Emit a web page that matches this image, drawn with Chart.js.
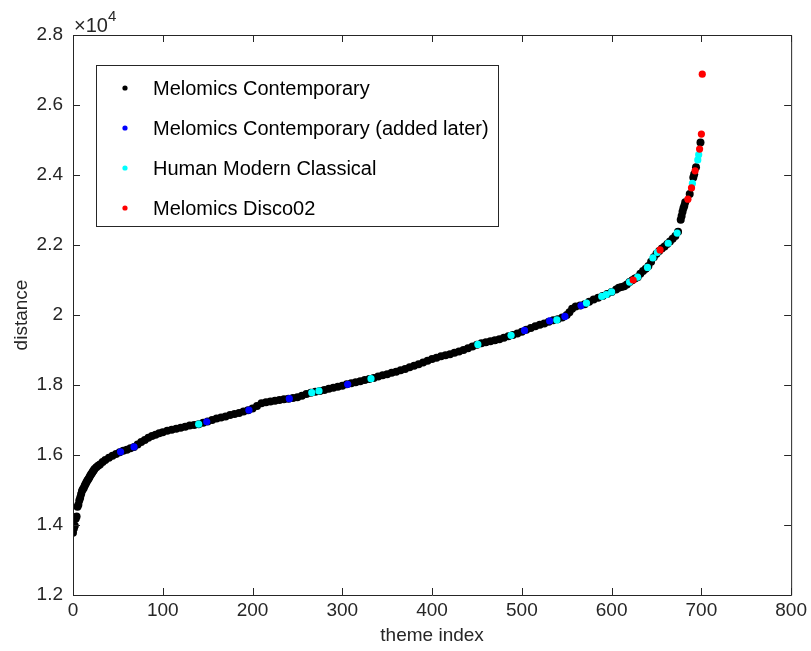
<!DOCTYPE html>
<html>
<head>
<meta charset="utf-8">
<script src="https://cdn.jsdelivr.net/npm/chart.js"></script>
<style>
  html, body { margin: 0; padding: 0; background: #fff; }
  #wrap { width: 811px; height: 651px; }
</style>
</head>
<body>
<div id="wrap"><canvas id="distChart" width="811" height="651"></canvas></div>
<script>
// theme index / distance pairs
const contemporary = [
  [0, 13780], [1, 13900], [2, 13980], [3, 14180], [4, 14240], [5, 14520], [6, 14580],
  [7, 14700], [8, 14780], [9, 14880], [10, 14970], [11, 15020], [12, 15060], [13, 15120],
  [14, 15170], [15, 15220], [16, 15270], [17, 15310], [18, 15350], [19, 15400], [20, 15440],
  [21, 15480], [22, 15520], [23, 15560], [24, 15600], [26, 15650], [28, 15690], [30, 15730],
  [33, 15800], [36, 15860], [40, 15920], [44, 15980], [48, 16030], [52, 16080], [56, 16120],
  [60, 16150], [64, 16190], [68, 16230], [72, 16300], [76, 16370], [80, 16430], [84, 16490],
  [88, 16540], [92, 16580], [96, 16620], [100, 16650], [105, 16690], [110, 16720], [115, 16750],
  [120, 16780], [125, 16810], [130, 16840], [135, 16860], [140, 16880], [145, 16920], [150, 16960],
  [155, 17000], [160, 17040], [165, 17070], [170, 17100], [175, 17140], [180, 17170], [185, 17200],
  [190, 17240], [195, 17280], [200, 17330], [205, 17400], [210, 17480], [215, 17510], [220, 17530],
  [225, 17550], [230, 17570], [235, 17590], [240, 17610], [245, 17630], [250, 17650], [255, 17690],
  [260, 17740], [265, 17780], [270, 17810], [275, 17830], [280, 17860], [285, 17890], [290, 17920],
  [295, 17950], [300, 17980], [305, 18020], [310, 18050], [315, 18080], [320, 18110], [325, 18140],
  [330, 18170], [335, 18200], [340, 18240], [345, 18280], [350, 18310], [355, 18350], [360, 18380],
  [365, 18420], [370, 18460], [375, 18510], [380, 18550], [385, 18590], [390, 18640], [395, 18690],
  [400, 18740], [405, 18780], [410, 18820], [415, 18850], [420, 18880], [425, 18920], [430, 18960],
  [435, 19000], [440, 19050], [445, 19100], [450, 19150], [455, 19190], [460, 19220], [465, 19250],
  [470, 19280], [475, 19310], [480, 19350], [485, 19390], [490, 19430], [495, 19470], [500, 19520],
  [505, 19580], [510, 19630], [515, 19680], [520, 19720], [525, 19760], [530, 19810], [535, 19850],
  [540, 19880], [545, 19930], [550, 20000], [553, 20080], [556, 20180], [560, 20240], [565, 20270],
  [570, 20310], [575, 20380], [580, 20440], [585, 20490], [590, 20540], [595, 20600], [600, 20660],
  [605, 20730], [608, 20780], [611, 20800], [614, 20820], [617, 20870], [620, 20940], [623, 20990],
  [626, 21040], [629, 21080], [632, 21180], [635, 21260], [638, 21320], [641, 21400], [644, 21520],
  [647, 21650], [650, 21750], [653, 21830], [656, 21900], [659, 21960], [662, 22030], [665, 22100],
  [668, 22180], [671, 22260], [674, 22380], [677, 22720], [678, 22830], [679, 22950], [680, 23050],
  [681, 23120], [682, 23220], [687, 23460], [691, 23930], [692, 24020], [694, 24220], [699, 24930]
];
const contemporaryLater = [
  [53, 16090], [68, 16230], [149, 16950], [196, 17280], [241, 17610], [306, 18020],
  [503, 19560], [531, 19830], [548, 19960], [566, 20270]
];
const modernClassical = [
  [140, 16880], [266, 17780], [274, 17830], [332, 18180], [451, 19160], [488, 19420],
  [539, 19860], [572, 20340], [589, 20530], [594, 20580], [600, 20660], [620, 20940],
  [629, 21080], [640, 21360], [646, 21630], [651, 21790], [663, 22050], [673, 22340],
  [690, 23760], [696, 24430], [697, 24580]
];
const disco02 = [
  [624, 21000], [654, 21860], [685, 23310], [689, 23630], [693, 24120], [698, 24740],
  [700, 25170], [701, 26880]
];

const seriesNames = ['Melomics Contemporary', 'Melomics Contemporary (added later)',
  'Human Modern Classical', 'Melomics Disco02'];
const seriesColors = ['#000000', '#0000ff', '#00ffff', '#ff0000'];
const xTicks = [0, 100, 200, 300, 400, 500, 600, 700, 800];
const yTicks = [12000, 14000, 16000, 18000, 20000, 22000, 24000, 26000, 28000];

const axisColor = '#262626';
const fontFamily = '"Liberation Sans", Arial, Helvetica, sans-serif';

function toPoints(arr) {
  return arr.map(p => ({ x: p[0], y: p[1] }));
}

// box, inward ticks and exponent label like the MATLAB axes
const framePlugin = {
  id: 'frame',
  afterDraw(chart) {
    const { ctx, chartArea: a, scales } = chart;
    const len = 7;
    ctx.save();
    ctx.strokeStyle = axisColor;
    ctx.lineWidth = 1;
    ctx.beginPath();
    ctx.rect(a.left + 0.5, a.top + 0.5, a.right - a.left, a.bottom - a.top);
    xTicks.forEach(t => {
      const x = Math.round(scales.x.getPixelForValue(t)) + 0.5;
      ctx.moveTo(x, a.bottom); ctx.lineTo(x, a.bottom - len);
      ctx.moveTo(x, a.top); ctx.lineTo(x, a.top + len);
    });
    yTicks.forEach(t => {
      const y = Math.round(scales.y.getPixelForValue(t)) + 0.5;
      ctx.moveTo(a.left, y); ctx.lineTo(a.left + len, y);
      ctx.moveTo(a.right, y); ctx.lineTo(a.right - len, y);
    });
    ctx.stroke();

    ctx.fillStyle = axisColor;
    ctx.textBaseline = 'alphabetic';
    ctx.textAlign = 'left';
    ctx.font = '20px ' + fontFamily;
    ctx.fillText('\u00d710', a.left + 1, a.top - 3);
    const w = ctx.measureText('\u00d710').width;
    ctx.font = '15px ' + fontFamily;
    ctx.fillText('4', a.left + 1 + w, a.top - 14);
    ctx.restore();
  }
};

// boxed legend inside the plot area
const boxLegendPlugin = {
  id: 'boxLegend',
  afterDraw(chart) {
    const { ctx } = chart;
    const bx = 96, by = 65, bw = 402, bh = 161;
    ctx.save();
    ctx.fillStyle = '#ffffff';
    ctx.fillRect(bx, by, bw, bh);
    ctx.strokeStyle = axisColor;
    ctx.lineWidth = 1;
    ctx.strokeRect(bx + 0.5, by + 0.5, bw, bh);
    ctx.font = '20px ' + fontFamily;
    ctx.textBaseline = 'middle';
    ctx.textAlign = 'left';
    seriesNames.forEach((name, i) => {
      const y = by + 23 + i * 40;
      ctx.fillStyle = seriesColors[i];
      ctx.beginPath();
      ctx.arc(bx + 29, y, 2.6, 0, Math.PI * 2);
      ctx.fill();
      ctx.fillStyle = '#000000';
      ctx.fillText(name, bx + 57, y + 1);
    });
    ctx.restore();
  }
};

const groups = [contemporary, contemporaryLater, modernClassical, disco02];

new Chart(document.getElementById('distChart').getContext('2d'), {
  type: 'scatter',
  data: {
    datasets: groups.map((g, i) => ({
      label: seriesNames[i],
      data: toPoints(g),
      backgroundColor: seriesColors[i],
      borderWidth: 0,
      pointRadius: i === 0 ? 4 : 3.6,
      pointHoverRadius: i === 0 ? 4 : 3.6,
      order: groups.length - i
    }))
  },
  options: {
    responsive: false,
    animation: false,
    events: [],
    layout: { padding: { top: 35, right: 18, left: 0, bottom: 0 } },
    plugins: {
      legend: { display: false },
      tooltip: { enabled: false }
    },
    scales: {
      x: {
        type: 'linear',
        min: 0,
        max: 800,
        afterBuildTicks: s => { s.ticks = xTicks.map(v => ({ value: v })); },
        afterFit: s => { s.height = 56; },
        grid: { display: false, drawTicks: false },
        border: { display: false },
        ticks: {
          padding: 4,
          color: axisColor,
          font: { family: fontFamily, size: 19 },
          maxRotation: 0
        },
        title: {
          display: true,
          text: 'theme index',
          color: axisColor,
          font: { family: fontFamily, size: 19 },
          padding: { top: 0, bottom: 4 }
        }
      },
      y: {
        type: 'linear',
        min: 12000,
        max: 28000,
        afterBuildTicks: s => { s.ticks = yTicks.map(v => ({ value: v })); },
        afterFit: s => { s.width = 73; },
        grid: { display: false, drawTicks: false },
        border: { display: false },
        ticks: {
          padding: 10,
          color: axisColor,
          font: { family: fontFamily, size: 19 },
          callback: v => String(v / 10000)
        },
        title: {
          display: true,
          text: 'distance',
          color: axisColor,
          font: { family: fontFamily, size: 19 },
          padding: { top: 10, bottom: 0 }
        }
      }
    }
  },
  plugins: [framePlugin, boxLegendPlugin]
});
</script>
</body>
</html>
